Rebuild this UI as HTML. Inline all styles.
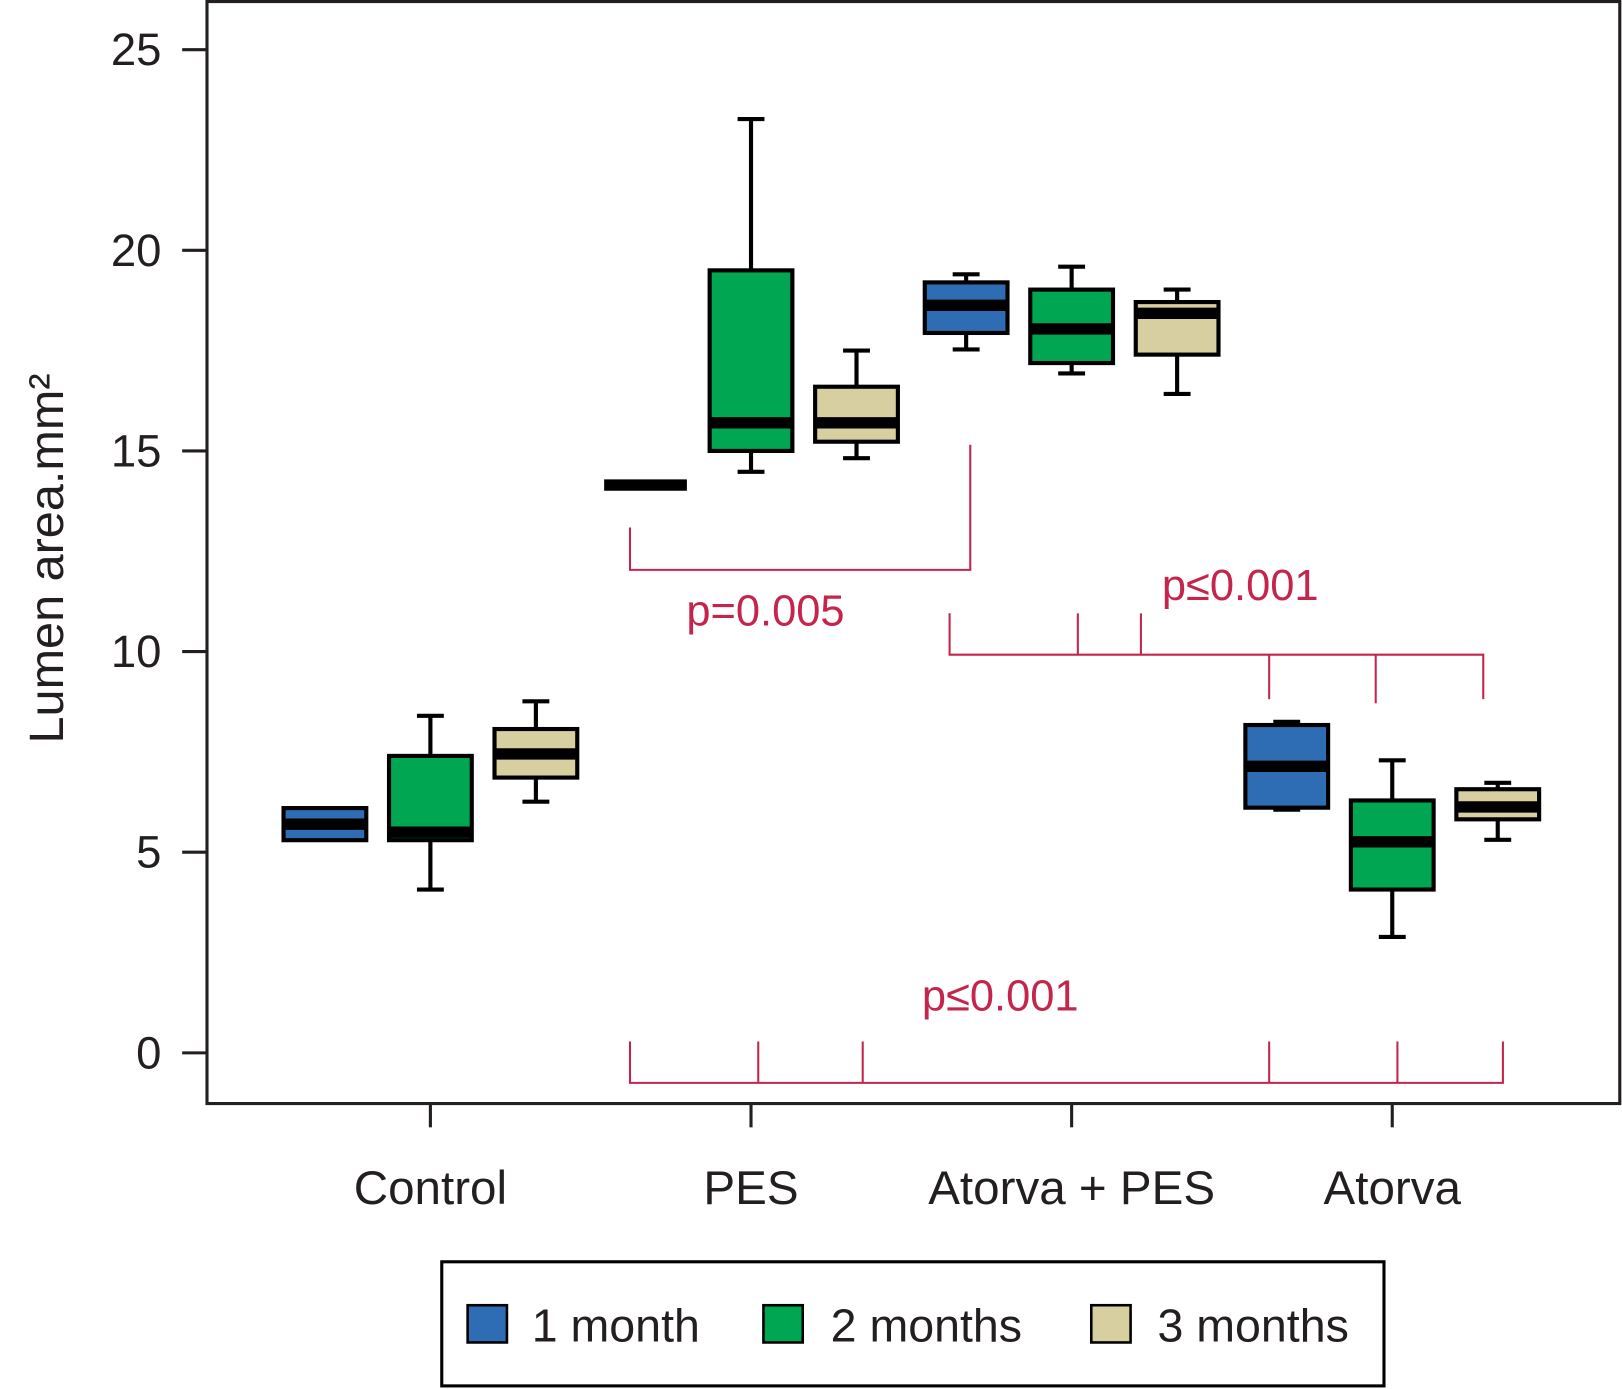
<!DOCTYPE html>
<html><head><meta charset="utf-8"><style>
html,body{margin:0;padding:0;background:#fff;}
svg{display:block;font-family:"Liberation Sans",Arial,sans-serif;}
</style></head><body>
<svg id="chart" width="1622" height="1389" viewBox="0 0 1568 1343">
<rect x="200" y="1.5" width="1366" height="1065.5" fill="none" stroke="#231f20" stroke-width="3"/>
<g id="yaxis"></g>
<g id="xaxis"></g>
<g id="boxes"></g>
<g id="brackets" stroke="#c4254c" stroke-width="2" fill="none"></g>
<text x="0" y="0" transform="translate(61,540) rotate(-90)" text-anchor="middle" font-size="47" fill="#231f20">Lumen area.mm²</text>
<text x="740" y="605" text-anchor="middle" font-size="42" fill="#c4254c">p=0.005</text>
<text x="1199" y="580" text-anchor="middle" font-size="42" fill="#c4254c">p≤0.001</text>
<text x="967" y="977" text-anchor="middle" font-size="42" fill="#c4254c">p≤0.001</text>
<g>
<rect x="427" y="1220" width="911" height="120" fill="#fff" stroke="#000" stroke-width="3"/>
<rect x="452" y="1262" width="38" height="36" fill="#2e6db4" stroke="#000" stroke-width="2.5"/>
<text x="514" y="1297" font-size="45" fill="#231f20">1 month</text>
<rect x="738" y="1262" width="38" height="36" fill="#00a651" stroke="#000" stroke-width="2.5"/>
<text x="803" y="1297" font-size="45" fill="#231f20">2 months</text>
<rect x="1055" y="1262" width="38" height="36" fill="#d8cfa1" stroke="#000" stroke-width="2.5"/>
<text x="1119" y="1297" font-size="45" fill="#231f20">3 months</text>
</g>
</svg>
<script>
const categories = ["Control", "PES", "Atorva + PES", "Atorva"];
const seriesNames = ["1 month", "2 months", "3 months"];
const seriesColors = ["#2e6db4", "#00a651", "#d8cfa1"];
const yTicks = [0, 5, 10, 15, 20, 25];
// per category, per series: [whiskerLow, q1, median, q3, whiskerHigh]
const controlBoxes = [[5.3, 5.3, 5.7, 6.1, 6.1], [4.07, 5.3, 5.5, 7.4, 8.4], [6.26, 6.86, 7.45, 8.07, 8.76]];
const pesBoxes = [[14.15, 14.15, 14.15, 14.15, 14.15], [14.48, 15.0, 15.7, 19.5, 23.27], [14.82, 15.23, 15.7, 16.6, 17.5]];
const atorvaPesBoxes = [[17.53, 17.94, 18.63, 19.2, 19.4], [16.93, 17.19, 18.04, 19.02, 19.59], [16.42, 17.4, 18.43, 18.71, 19.02]];
const atorvaBoxes = [[6.06, 6.11, 7.14, 8.17, 8.25], [2.89, 4.07, 5.26, 6.29, 7.29], [5.31, 5.82, 6.13, 6.57, 6.73]];
const boxData = [controlBoxes, pesBoxes, atorvaPesBoxes, atorvaBoxes];

const NS = "http://www.w3.org/2000/svg";
function y(v){ return 1018 - 38.8 * v; }
function xc(i){ return 416 + 310 * i; }
function xs(i, s){ return xc(i) + (s - 1) * 102; }
function mk(parent, tag, attrs){
  const e = document.createElementNS(NS, tag);
  for (const k in attrs) e.setAttribute(k, attrs[k]);
  parent.appendChild(e); return e;
}
const ya = document.getElementById("yaxis");
yTicks.forEach(t => {
  const l = mk(ya, "line", {x1:176, x2:200, y1:y(t), y2:y(t), stroke:"#231f20", "stroke-width":3});
  
  
  const tx = mk(ya, "text", {x:156, y:y(t)+15, "text-anchor":"end", "font-size":44, fill:"#231f20"});
  tx.textContent = t;
  
  
});
const xa = document.getElementById("xaxis");
categories.forEach((c, i) => {
  const l = mk(xa, "line", {x1:xc(i), x2:xc(i), y1:1067, y2:1090, stroke:"#231f20", "stroke-width":3});
  
  
  const tx = mk(xa, "text", {x:xc(i), y:1164, "text-anchor":"middle", "font-size":46, fill:"#231f20"});
  tx.textContent = c;
  
  
});
const bg = document.getElementById("boxes");
boxData.forEach((grp, i) => {
  grp.forEach((d, s) => {
    const cx = xs(i, s), w = 80;
    const g = mk(bg, "g", {});
    
    
    if (d[4] > d[3]) {
      mk(g, "line", {x1:cx, x2:cx, y1:y(d[4]), y2:y(d[3]), stroke:"#000", "stroke-width":4});
      mk(g, "line", {x1:cx-13, x2:cx+13, y1:y(d[4]), y2:y(d[4]), stroke:"#000", "stroke-width":4});
    }
    if (d[0] < d[1]) {
      mk(g, "line", {x1:cx, x2:cx, y1:y(d[1]), y2:y(d[0]), stroke:"#000", "stroke-width":4});
      mk(g, "line", {x1:cx-13, x2:cx+13, y1:y(d[0]), y2:y(d[0]), stroke:"#000", "stroke-width":4});
    }
    const h = y(d[1]) - y(d[3]);
    if (h > 1) mk(g, "rect", {x:cx-w/2, y:y(d[3]), width:w, height:h, fill:seriesColors[s], stroke:"#000", "stroke-width":4});
    mk(g, "line", {x1:cx-w/2, x2:cx+w/2, y1:y(d[2]), y2:y(d[2]), stroke:"#000", "stroke-width":11});
  });
});
const br = document.getElementById("brackets");
function P(pts){
  const p = mk(br, "polyline", {points: pts.map(q => q.join(",")).join(" ")});
  
  
}
P([[609,510],[609,551],[938,551],[938,430]]);
P([[918,593],[918,633],[1434,633],[1434,676]]);
P([[1042,593],[1042,633]]); P([[1103,593],[1103,633]]);
P([[1227,633],[1227,676]]); P([[1330,633],[1330,680]]);
P([[609,1007],[609,1047],[1453,1047],[1453,1007]]);
[733,834,1227,1351].forEach(x => P([[x,1007],[x,1047]]));
</script>
</body></html>
